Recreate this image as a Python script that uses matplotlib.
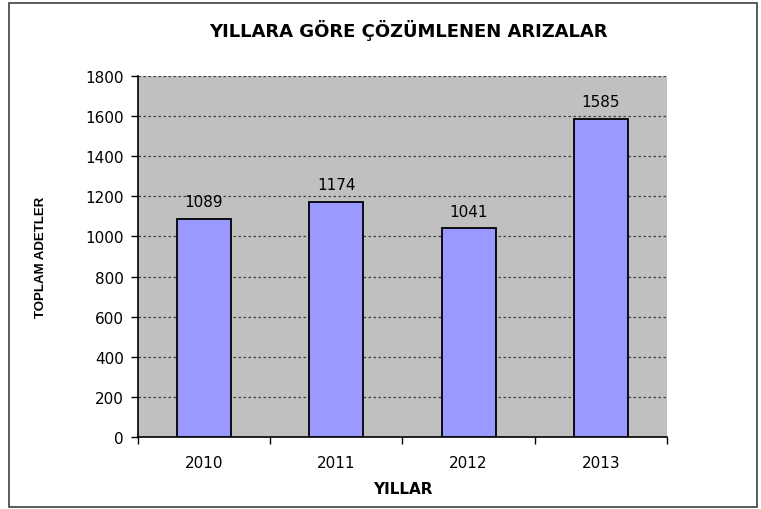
import numpy as np
import matplotlib.pyplot as plt
from matplotlib.patches import Rectangle

# Veriler
yillar = ['2010', '2011', '2012', '2013']
arizalar = [1089, 1174, 1041, 1585]
y_ticks = list(range(0, 1801, 200))

plt.rcParams['font.family'] = ['DejaVu Sans']

fig = plt.figure(figsize=(7.61, 5.10), dpi=100)
ax = fig.add_axes([0.1813, 0.1412, 0.6952, 0.7078])

x = np.arange(len(yillar))
ax.bar(x, arizalar, width=0.41, color='#9999FF', edgecolor='black', linewidth=1.3, zorder=3)

for xi, v in zip(x, arizalar):
    ax.annotate(str(v), (xi, v), xytext=(0, 7), textcoords='offset points',
                ha='center', va='bottom', fontsize=11)

ax.set_facecolor('#C0C0C0')
ax.set_xlim(-0.5, len(yillar) - 0.5)
ax.set_ylim(0, 1800)
ax.set_yticks(y_ticks)
ax.tick_params(axis='y', labelsize=11, length=5, width=1, direction='out', pad=5)
ax.set_xticks(np.arange(len(yillar) + 1) - 0.5)
ax.set_xticklabels([])
ax.set_xticks(x, minor=True)
ax.set_xticklabels(yillar, minor=True, fontsize=11)
ax.tick_params(axis='x', which='major', length=5, width=1, direction='out')
ax.tick_params(axis='x', which='minor', length=0, pad=13)

ax.yaxis.grid(True, linestyle=(0, (2, 2)), color='#404040', linewidth=0.9, zorder=1)
ax.set_axisbelow(True)
for s in ['top', 'right']:
    ax.spines[s].set_visible(False)
for s in ['left', 'bottom']:
    ax.spines[s].set_linewidth(1.2)

ax.set_xlabel('YILLAR', fontsize=11, fontweight='bold', labelpad=8)
fig.text(0.054, 0.495, 'TOPLAM ADETLER', rotation=90, fontsize=9.5, fontweight='bold',
         ha='center', va='center', family='Liberation Sans')

fig.text(0.537, 0.94, 'YILLARA GÖRE ÇÖZÜMLENEN ARIZALAR', fontsize=13, fontweight='bold',
         ha='center', va='center')

fig.patches.append(Rectangle((9 / 761, 2 / 510), 748 / 761, 504 / 510, transform=fig.transFigure,
                             fill=False, edgecolor='#404040', linewidth=1.2))

fig.savefig('out.png', dpi=100)
